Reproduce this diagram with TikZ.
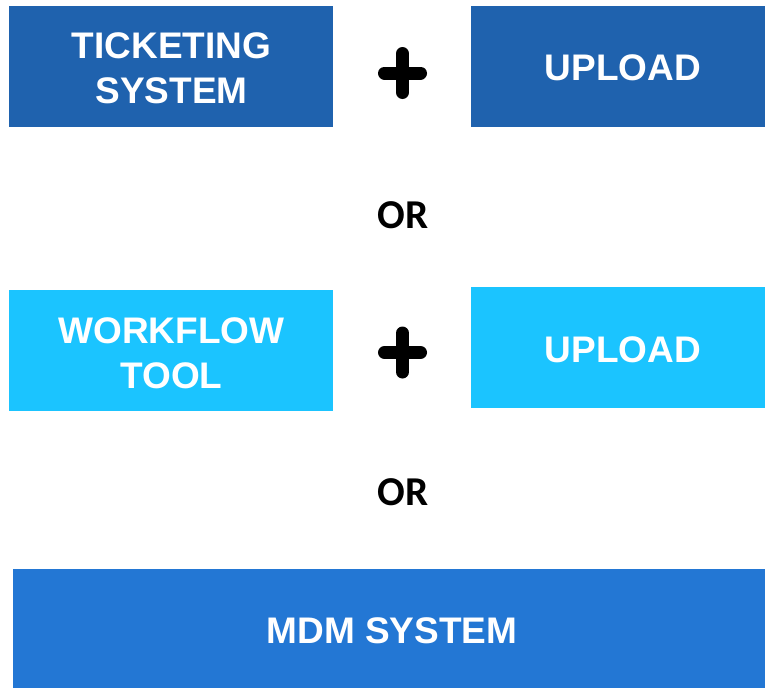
\documentclass[tikz,border=0pt]{standalone}
\usepackage{fontspec}
\setmainfont{Liberation Sans}
\newfontfamily\orfont{Carlito}
\definecolor{ticketblue}{RGB}{31,98,174}
\definecolor{flowcyan}{RGB}{27,196,255}
\definecolor{mdmblue}{RGB}{35,119,212}
\tikzset{
  block/.style={draw=none, inner sep=0pt, align=center, text=white,
    font=\fontsize{37}{45}\selectfont\bfseries},
  label/.style={inner sep=0pt, align=center, text=white,
    font=\fontsize{37}{45}\selectfont\bfseries},
  ortext/.style={inner sep=0pt, font=\orfont\fontsize{41}{44}\selectfont\bfseries},
  plussign/.style={line width=13pt, line cap=round, black}
}
\begin{document}
\begin{tikzpicture}[x=1pt,y=-1pt]
\useasboundingbox (0,0) rectangle (766,688);

% first row
\node[block, fill=ticketblue, minimum width=324pt, minimum height=121pt] (ticket) at (171,66.5) {};
\node[label] (ticketlabel) at (171.5,68) {TICKETING\\SYSTEM};
\node[block, fill=ticketblue, minimum width=294pt, minimum height=121pt] (upload1) at (618,66.5) {};
\node[label] (upload1label) at (623,68) {UPLOAD};
\draw[plussign] (384.5,73) -- (420.5,73);
\draw[plussign] (402.5,53.5) -- (402.5,92.5);

\node[ortext] (or1) at (403,215.5) {OR};

% second row
\node[block, fill=flowcyan, minimum width=324pt, minimum height=121pt] (workflow) at (171,350.5) {};
\node[label] (workflowlabel) at (171.5,353) {WORKFLOW\\TOOL};
\node[block, fill=flowcyan, minimum width=294pt, minimum height=121pt] (upload2) at (618,347.5) {};
\node[label] (upload2label) at (623,349.5) {UPLOAD};
\draw[plussign] (384.5,352.5) -- (420.5,352.5);
\draw[plussign] (402.5,333) -- (402.5,372);

\node[ortext] (or2) at (403,492.5) {OR};

% bottom row
\node[block, fill=mdmblue, minimum width=752pt, minimum height=119pt] (mdm) at (389,628.5) {};
\node[label] (mdmlabel) at (392,631) {MDM SYSTEM};
\end{tikzpicture}
\end{document}
